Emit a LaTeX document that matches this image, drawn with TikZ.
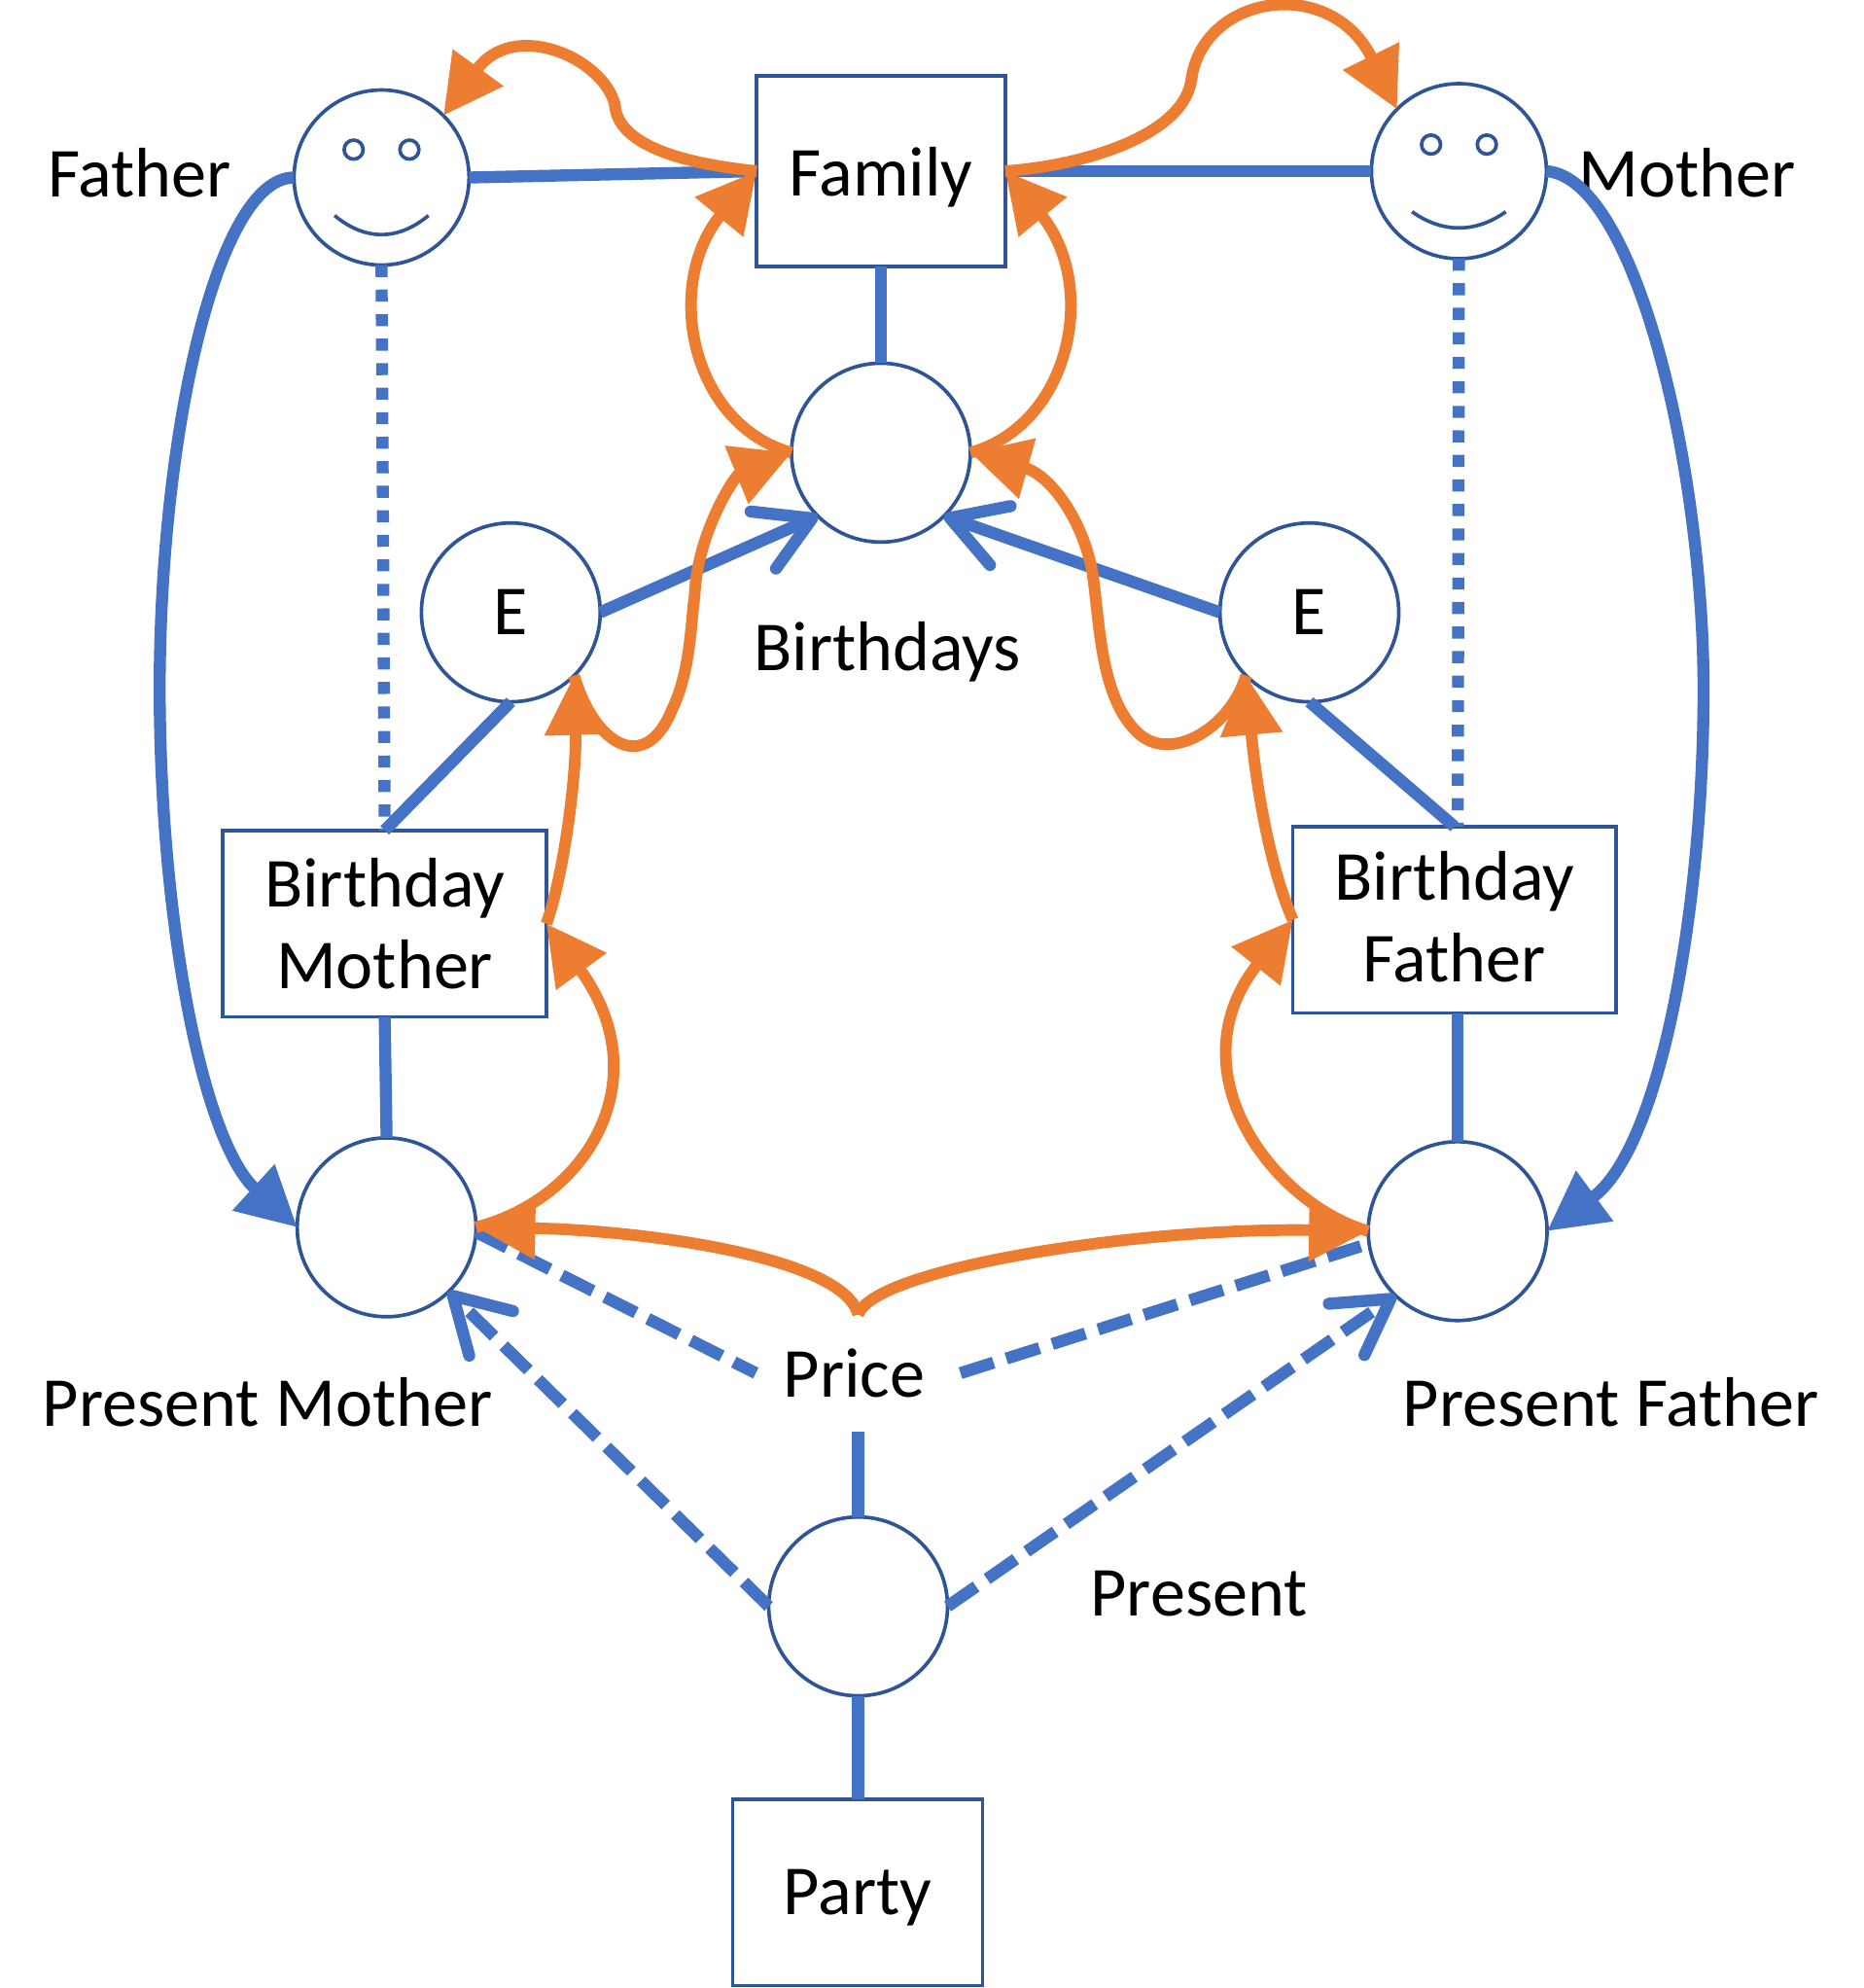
\documentclass[tikz,border=0pt]{standalone}
\usepackage{fontspec}
\setmainfont{Carlito}
\usetikzlibrary{arrows.meta}
\definecolor{linkblue}{HTML}{4472C4}
\definecolor{linkorange}{HTML}{ED7D31}
\definecolor{nodeblue}{HTML}{2F5597}
\tikzset{
    ent/.style={draw=nodeblue, line width=0.8pt, fill=white, inner sep=0pt, outer sep=0pt},
    ball/.style={ent, circle, minimum size=1.41cm},
    face/.style={ent, circle, minimum size=1.38cm},
    box/.style={ent, rectangle, align=center},
    eyedot/.style={ent, circle, minimum size=0.15cm},
    word/.style={inner sep=0pt, align=center},
    link/.style={draw=linkblue, line width=2.7pt},
    dotlink/.style={link, dash pattern=on 2.7pt off 2.8pt},
    dashlink/.style={link, dash pattern=on 7.8pt off 3pt},
    fat/.style={-{Triangle[length=13.3pt,width=13.4pt]}},
    barb/.style={-{Straight Barb[length=12pt,width=14pt,round]}},
    loop/.style={draw=linkorange, line width=2.6pt, fat}
}
\begin{document}
\begin{tikzpicture}[x=0.01cm, y=-0.01cm, font=\fontsize{15.75}{18.2}\selectfont]
    \useasboundingbox (0,0) rectangle (1470,1568);

    \node[word] (fatherlabel) at (110,136) {Father};
    \node[word] (motherlabel) at (1331,136) {Mother};
    \node[word] (birthdayslabel) at (700,514) {Birthdays};
    \node[word] (presentmotherlabel) at (211,1106) {Present Mother};
    \node[word] (presentfatherlabel) at (1271,1106) {Present Father};
    \node[word] (presentlabel) at (946,1257) {Present};
    \node[word, minimum width=1.6cm, minimum height=0.91cm] (price) at (677,1083) {Price\kern1.7pt};

    \node[face] (father) at (301,140) {};
    \node[face] (mother) at (1151,135) {};
    \node[ball] (birthdays) at (695,357) {};
    \node[ball] (eleft) at (403,483) {E};
    \node[ball] (eright) at (1033,483) {E};
    \node[ball] (presentmother) at (305,968) {};
    \node[ball] (presentfather) at (1150,971) {};
    \node[ball] (present) at (677,1267) {};

    \node[box, minimum width=1.96cm, minimum height=1.5cm, text depth=0pt] (family) at (695,135) {Family};
    \node[box, minimum width=2.55cm, minimum height=1.47cm] (birthdaymother) at (303.5,728.5) {Birthday\\Mother};
    \node[box, minimum width=2.55cm, minimum height=1.47cm, text depth=1.5pt] (birthdayfather) at (1147.5,725.5) {Birthday\\Father};
    \node[box, minimum width=1.97cm, minimum height=1.47cm, text depth=0pt] (party) at (676.5,1492.5) {Party};

    \node[eyedot] (fathereyea) at (279,118) {};
    \node[eyedot] (fathereyeb) at (323,118) {};
    \node[eyedot] (mothereyea) at (1129,114) {};
    \node[eyedot] (mothereyeb) at (1173,114) {};
    \draw[draw=nodeblue, line width=0.8pt] (264,170) .. controls (288,190) and (314,190) .. (338,170);
    \draw[draw=nodeblue, line width=0.8pt] (1114,167) .. controls (1138,184) and (1164,184) .. (1188,167);

    \draw[link] (father.east) -- (family.west);
    \draw[link] (family.east) -- (mother.west);
    \draw[link] (family.south) -- (birthdays.north);
    \draw[dotlink] (father.south) -- (birthdaymother.north);
    \draw[dotlink] (mother.south) -- (birthdayfather.88);
    \draw[link] (eleft.south) -- (birthdaymother.north);
    \draw[link] (eright.south) -- (birthdayfather.north);
    \draw[link] (birthdaymother.south) -- (presentmother.north);
    \draw[link] (birthdayfather.south -| presentfather.north) -- (presentfather.north);
    \draw[link] (price.south) -- (present.north);
    \draw[link] (present.south) -- (party.north -| present.south);
    \draw[link, barb] (eleft.east) -- (birthdays.225);
    \draw[link, barb] (eright.west) -- (birthdays.-45);
    \draw[link, fat] (father.west) .. controls (170,140) and (125,350) .. (126,550)
        .. controls (127,730) and (160,900) .. (presentmother.west);
    \draw[link, fat] (mother.east) .. controls (1290,140) and (1345,370) .. (1344,550)
        .. controls (1343,720) and (1310,905) .. (presentfather.east);
    \draw[dashlink] (presentmother.-3) -- (price.west);
    \draw[dashlink] (price.east) -- (presentfather.188);
    \draw[dashlink, barb] (present.west) -- (presentmother.-46);
    \draw[dashlink, barb] (present.east) -- (presentfather.226);

    \draw[loop] (family.west) .. controls (550,130) and (487,118) .. (485,82)
        .. controls (475,45) and (405,15) .. (father.45);
    \draw[loop] (family.east) .. controls (860,130) and (935,105) .. (940,62)
        .. controls (950,-5) and (1050,-20) .. (mother.135);
    \draw[loop] (birthdays.west) .. controls (545,335) and (523,225) .. (family.west);
    \draw[loop] (birthdays.east) .. controls (845,335) and (867,225) .. (family.east);
    \draw[loop] (eleft.-45) .. controls (470,590) and (510,610) .. (530,560)
        .. controls (545,530) and (545,490) .. (548,470)
        .. controls (550,420) and (580,375) .. (birthdays.west);
    \draw[loop] (eright.225) .. controls (970,575) and (925,600) .. (900,580)
        .. controls (870,555) and (868,500) .. (863,460)
        .. controls (858,415) and (830,375) .. (birthdays.east);
    \draw[loop] (birthdaymother.east) .. controls (445,690) and (455,610) .. (eleft.-45);
    \draw[loop] (birthdayfather.west) .. controls (1000,680) and (990,610) .. (eright.225);
    \draw[loop] (presentmother.east) .. controls (465,945) and (520,850) .. (birthdaymother.east);
    \draw[loop] (presentfather.west) .. controls (1005,950) and (925,845) .. (birthdayfather.west);
    \draw[loop] (price.north) .. controls (665,990) and (500,970) .. (presentmother.east);
    \draw[loop] (price.north) .. controls (690,1000) and (900,968) .. (presentfather.west);
\end{tikzpicture}
\end{document}
